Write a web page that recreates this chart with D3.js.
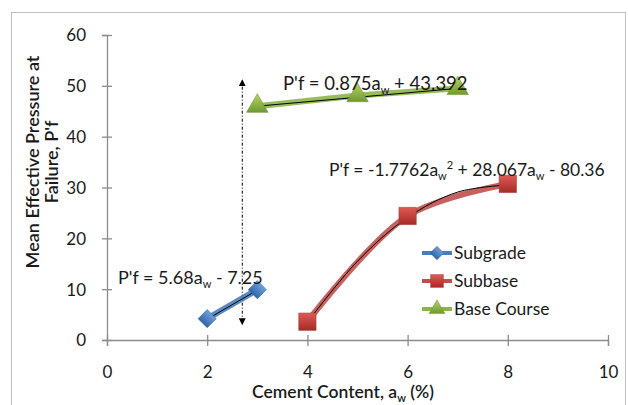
<!DOCTYPE html>
<html>
<head>
<meta charset="utf-8">
<script src="https://cdn.jsdelivr.net/npm/d3@7"></script>
<style>
  body { margin: 0; background: #fff; }
  svg text { font-family: Lato, "Open Sans", sans-serif; fill: #1a1a1a; }
</style>
</head>
<body>
<svg id="chart" width="628" height="405"></svg>
<script>
// data
var seriesNames = ["Subgrade", "Subbase", "Base Course"];
var subgradeX = [2, 3];
var subgradeY = [4.2, 9.9];
var subbaseX = [4, 6, 8];
var subbaseY = [3.6, 24.4, 30.7];
var baseX = [3, 5, 7];
var baseY = [46.0, 48.1, 49.5];

// trendline points (black thin lines)
var trendSubgradeX = [2, 3];
var trendSubgradeY = [4.1, 9.8];
var trendSubbaseX = [4, 5, 6, 7, 8];
var trendSubbaseY = [3.5, 15.5, 24.1, 29.1, 30.5];
var trendBaseX = [3, 7];
var trendBaseY = [46.0, 49.5];

var xTicks = [0, 2, 4, 6, 8, 10];
var yTicks = [0, 10, 20, 30, 40, 50, 60];

// the dotted double arrow
var arrowX = [2.7, 2.7];
var arrowY = [3.6, 50.6];

var svg = d3.select("#chart");

svg.append("rect")
    .attr("x", 11.5).attr("y", 12.5)
    .attr("width", 614).attr("height", 400)
    .attr("fill", "#fff")
    .attr("stroke", "#bfbfbf");

var x = d3.scaleLinear().domain([0, 10]).range([107, 608]);
var y = d3.scaleLinear().domain([0, 60]).range([340, 35]);

var defs = svg.append("defs");
function grad(id, c1, c2) {
    var g = defs.append("linearGradient").attr("id", id)
        .attr("x1", 0).attr("y1", 0).attr("x2", 0).attr("y2", 1);
    g.append("stop").attr("offset", "0%").attr("stop-color", c1);
    g.append("stop").attr("offset", "100%").attr("stop-color", c2);
}
grad("gBlue", "#6fa0dc", "#2f65a8");
grad("gRed", "#e05a55", "#a52a26");
grad("gGreen", "#b4d46a", "#6f9a2c");
defs.append("marker").attr("id", "ah")
    .attr("viewBox", "0 0 10 10").attr("refX", 5).attr("refY", 5)
    .attr("markerWidth", 7).attr("markerHeight", 7)
    .attr("orient", "auto-start-reverse")
    .append("path").attr("d", "M0,0L10,5L0,10Z").attr("fill", "#000");

// axes
var axisColor = "#8c8c8c";
var gy = svg.append("g").attr("transform", "translate(107,0)")
    .call(d3.axisLeft(y).tickValues(yTicks).tickSize(5).tickPadding(16));
gy.selectAll(".tick line").attr("x2", 5).attr("x1", -5);
var gx = svg.append("g").attr("transform", "translate(0,340)")
    .call(d3.axisBottom(x).tickValues(xTicks).tickSize(6).tickPadding(20));
gx.selectAll(".tick line").attr("y1", -5).attr("y2", 6);
[gx, gy].forEach(function(g) {
    g.select(".domain").attr("stroke", axisColor).attr("stroke-width", 1.3);
    g.selectAll(".tick line").attr("stroke", axisColor).attr("stroke-width", 1.3);
    g.selectAll(".tick text").style("font-size", "17px").attr("fill", "#1a1a1a");
});
gy.selectAll(".tick text").attr("dy", "0.35em");

// axis titles
var xt = svg.append("text").attr("x", 343).attr("y", 398)
    .attr("text-anchor", "middle").style("font-size", "17.5px").style("font-weight", "600");
xt.append("tspan").text("Cement Content, a");
xt.append("tspan").attr("dy", 4).style("font-size", "11px").text("w");
xt.append("tspan").attr("dy", -4).text(" (%)");

var yt = svg.append("g").attr("transform", "translate(39,162) rotate(-90)");
yt.append("text").attr("text-anchor", "middle").attr("y", 0)
    .style("font-size", "18px").style("font-weight", "600")
    .text("Mean Effective Pressure at");
yt.append("text").attr("text-anchor", "middle").attr("y", 19)
    .style("font-size", "18px").style("font-weight", "600")
    .text("Failure, P'f");

// dotted arrow
svg.append("line")
    .attr("x1", x(arrowX[0])).attr("y1", y(arrowY[0]))
    .attr("x2", x(arrowX[1])).attr("y2", y(arrowY[1]))
    .attr("stroke", "#000").attr("stroke-width", 1)
    .attr("stroke-dasharray", "3,2,1,2")
    .attr("marker-start", "url(#ah)").attr("marker-end", "url(#ah)");

function pts(xs, ys) { return xs.map(function(v, i) { return [v, ys[i]]; }); }

var series = [
    { name: seriesNames[0], data: pts(subgradeX, subgradeY), trend: pts(trendSubgradeX, trendSubgradeY),
      color: "#4a7ebb", fill: "url(#gBlue)", sym: d3.symbolSquare, size: 165, rot: 45, curve: d3.curveLinear },
    { name: seriesNames[1], data: pts(subbaseX, subbaseY), trend: pts(trendSubbaseX, trendSubbaseY),
      color: "#c0504d", fill: "url(#gRed)", sym: d3.symbolSquare, size: 300, rot: 0, curve: d3.curveCatmullRom },
    { name: seriesNames[2], data: pts(baseX, baseY), trend: pts(trendBaseX, trendBaseY),
      color: "#8db44a", fill: "url(#gGreen)", sym: d3.symbolTriangle, size: 200, rot: 0, curve: d3.curveLinear }
];

series.forEach(function(s) {
    var line = d3.line().x(function(d) { return x(d[0]); }).y(function(d) { return y(d[1]); }).curve(s.curve);
    svg.append("path").attr("d", line(s.data))
        .attr("fill", "none").attr("stroke", s.color).attr("stroke-width", 6).attr("opacity", 0.9);
    var tl = d3.line().x(function(d) { return x(d[0]); }).y(function(d) { return y(d[1]); })
        .curve(s.trend.length > 2 ? d3.curveCatmullRom : d3.curveLinear);
    svg.append("path").attr("d", tl(s.trend))
        .attr("fill", "none").attr("stroke", "#000").attr("stroke-width", 1);
    svg.selectAll(null).data(s.data).enter().append("path")
        .attr("d", d3.symbol().type(s.sym).size(s.size))
        .attr("transform", function(d) { return "translate(" + x(d[0]) + "," + y(d[1]) + ") rotate(" + s.rot + ")"; })
        .attr("fill", s.fill).attr("stroke", d3.color(s.color).darker(0.5)).attr("stroke-width", 0.6);
});

// trendline equations, parts: [text, baseline offset]
function eq(px, py, size, parts) {
    var t = svg.append("text").attr("x", px).attr("y", py).style("font-size", size + "px");
    var cur = 0;
    parts.forEach(function(p) {
        var off = p[1] || 0;
        var ts = t.append("tspan").attr("dy", off - cur).text(p[0]);
        if (off !== 0) ts.style("font-size", "11px");
        cur = off;
    });
}
eq(283, 90, 18.5, [["P'f = 0.875a"], ["w", 4], [" + 43.392", 0]]);
eq(329, 176, 17.5, [["P'f = -1.7762a"], ["w", 4], ["2", -7], [" + 28.067a", 0], ["w", 4], [" - 80.36", 0]]);
eq(118, 284, 18, [["P'f = 5.68a"], ["w", 4], [" - 7.25", 0]]);

// legend
var leg = svg.append("g");
series.forEach(function(s, i) {
    var ly = 253 + i * 28;
    leg.append("line").attr("x1", 422).attr("x2", 452).attr("y1", ly).attr("y2", ly)
        .attr("stroke", s.color).attr("stroke-width", 4);
    leg.append("path").attr("d", d3.symbol().type(s.sym).size(s.size * 0.55))
        .attr("transform", "translate(437," + ly + ") rotate(" + s.rot + ")")
        .attr("fill", s.fill).attr("stroke", d3.color(s.color).darker(0.5)).attr("stroke-width", 0.5);
    leg.append("text").attr("x", 454).attr("y", ly).attr("dy", "0.36em")
        .style("font-size", "17.5px").text(s.name);
});
</script>
</body>
</html>
